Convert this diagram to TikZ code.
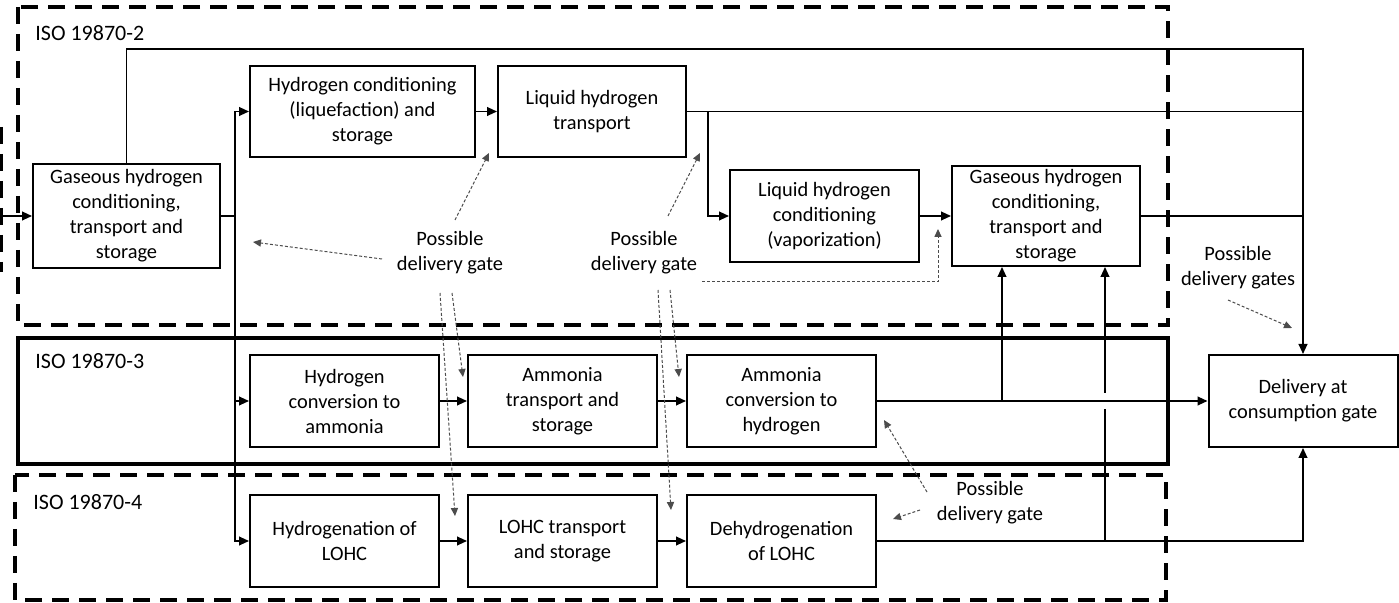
\documentclass[tikz,border=0pt]{standalone}
\usepackage{fontspec}
\setmainfont{Carlito}
\usetikzlibrary{arrows.meta,calc}
\begin{document}
\begin{tikzpicture}[x=0.5pt,y=-0.5pt,>={Triangle[length=5pt,width=4.4pt]},
  box/.style={draw,line width=1pt,align=center,inner sep=0pt,minimum width=94.5pt,minimum height=46pt,font=\fontsize{10.2}{12.5}\selectfont},
  flow/.style={line width=0.8pt},
  gate/.style={draw=black!70,line width=0.5pt,dash pattern=on 1.5pt off 1pt,-{Triangle[length=4pt,width=3.6pt]}},
  gatetext/.style={align=center,inner sep=0pt,font=\fontsize{10.2}{12.5}\selectfont},
  zone/.style={line width=1.6pt,dash pattern=on 8.5pt off 5pt},
  iso/.style={anchor=west,inner sep=0pt,font=\fontsize{11}{13}\selectfont}]
\useasboundingbox (0,0) rectangle (1399,603);
% standard parts
\draw[zone] (18,7) rectangle (1168,325);
\draw[line width=1.6pt] (18,338) rectangle (1168,464);
\draw[zone] (15,475) rectangle (1166,600);
\draw[zone] (1,127) -- (1,272);
\node[iso] (iso2) at (35,33) {ISO 19870-2};
\node[iso] (iso3) at (35,361) {ISO 19870-3};
\node[iso] (iso4) at (33,502) {ISO 19870-4};
% process steps
\node[box,minimum width=93.5pt,minimum height=52pt] (gasin) at (126.5,216) {Gaseous hydrogen\\conditioning,\\transport and\\storage};
\node[box,minimum width=112.5pt,minimum height=45.5pt] (liq) at (362.5,111.5) {Hydrogen conditioning\\(liquefaction) and\\storage};
\node[box,minimum width=94pt,minimum height=45.5pt] (lhtr) at (592,111.5) {Liquid hydrogen\\transport};
\node[box] (vap) at (824.5,216) {Liquid hydrogen\\conditioning\\(vaporization)};
\node[box,minimum width=94pt,minimum height=50pt] (gasout) at (1046,216) {Gaseous hydrogen\\conditioning,\\transport and\\storage};
\node[box] (deliv) at (1303,401) {Delivery at\\consumption gate};
\node[box] (hconv) at (344.5,401) {Hydrogen\\conversion to\\ammonia};
\node[box] (amtr) at (562.5,401) {Ammonia\\transport and\\storage};
\node[box] (amconv) at (781.5,401) {Ammonia\\conversion to\\hydrogen};
\node[box] (hydro) at (344.5,541) {Hydrogenation of\\LOHC};
\node[box] (lohctr) at (562.5,541) {LOHC transport\\and storage};
\node[box] (dehyd) at (781.5,541) {Dehydrogenation\\of LOHC};
% flows
\coordinate (in) at (0,216);
\coordinate (split) at (235,216);
\coordinate (top) at (1303,49);
\coordinate (lhbr) at (708,111.5);
\coordinate (upA) at (1002,401);
\coordinate (upB) at (1105,541);
\draw[flow,->] (in) -- (gasin.west);
\draw[flow,->] (gasin.north) |- (top) -- (deliv.north);
\draw[flow] (gasin.east) -- (split);
\draw[flow,->] (split) |- (liq.west);
\draw[flow,->] (split) |- (hconv.west);
\draw[flow,->] (split) |- (hydro.west);
\draw[flow,->] (liq.east) -- (lhtr.west);
\draw[flow] (lhtr.east) -- (lhtr.east -| top);
\draw[flow,->] (lhbr) |- (vap.west);
\draw[flow,->] (vap.east) -- (gasout.west);
\draw[flow] (gasout.east) -- (gasout.east -| top);
\draw[flow,->] (hconv.east) -- (amtr.west);
\draw[flow,->] (amtr.east) -- (amconv.west);
\draw[flow,->] (amconv.east) -- (deliv.west);
\draw[flow,->] (upA) -- (upA |- gasout.south);
\draw[flow] (upB) -- ($(upB |- amconv)+(0,8)$);
\draw[flow,->] ($(upB |- amconv)+(0,-8)$) -- (upB |- gasout.south);
\draw[flow,->] (hydro.east) -- (lohctr.west);
\draw[flow,->] (lohctr.east) -- (dehyd.west);
\draw[flow,->] (dehyd.east) -| (deliv.south);
% delivery gates
\node[gatetext] (gateA) at (450,253) {Possible\\delivery gate};
\node[gatetext] (gateB) at (644,253) {Possible\\delivery gate};
\node[gatetext] (gateC) at (990,503) {Possible\\delivery gate};
\node[gatetext] (gateD) at (1238,268) {Possible\\delivery gates};
\coordinate (a1) at (382,259); \coordinate (b1) at (253,242);
\coordinate (a2) at (455,220); \coordinate (b2) at (489,153);
\coordinate (a3) at (452,293); \coordinate (b3) at (463,377);
\coordinate (a4) at (440,293); \coordinate (b4) at (455,516);
\coordinate (a5) at (668,216); \coordinate (b5) at (700,153);
\coordinate (a6) at (702,282); \coordinate (b6) at (938,229);
\coordinate (a7) at (670,290); \coordinate (b7) at (679,377);
\coordinate (a8) at (658,290); \coordinate (b8) at (671,510);
\coordinate (a9) at (927,492); \coordinate (b9) at (884,420);
\coordinate (a10) at (920,510); \coordinate (b10) at (893,519);
\coordinate (a11) at (1228,300); \coordinate (b11) at (1292,328);
\foreach \i in {1,2,3,4,5,7,8,9,10,11}
  \draw[gate] (a\i) -- (b\i);
\draw[gate] (a6) -| (b6);
\end{tikzpicture}
\end{document}
